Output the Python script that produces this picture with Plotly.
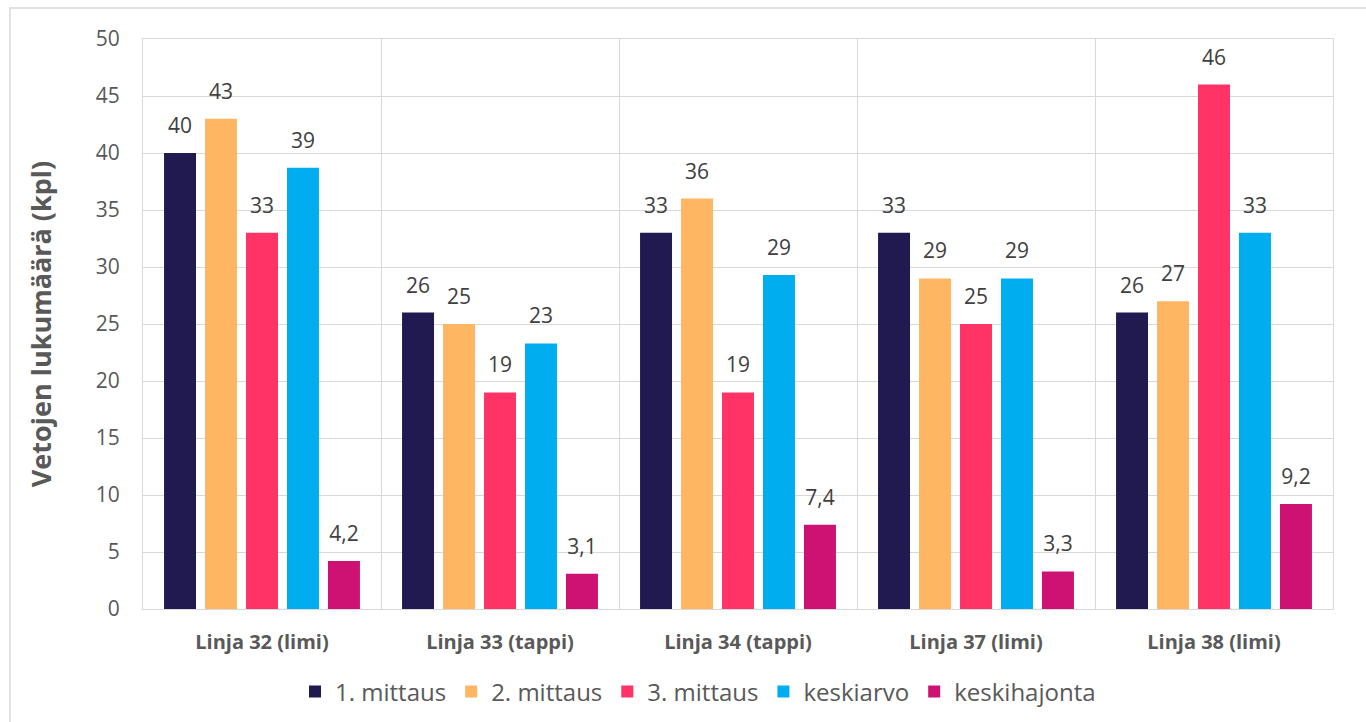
import plotly.graph_objects as go

# Pull-count measurements per line (kpl)
categories = ["Linja 32 (limi)", "Linja 33 (tappi)", "Linja 34 (tappi)",
              "Linja 37 (limi)", "Linja 38 (limi)"]
mittaus_1 = [40, 26, 33, 33, 26]
mittaus_2 = [43, 25, 36, 29, 27]
mittaus_3 = [33, 19, 19, 25, 46]
keskiarvo = [38.7, 23.3, 29.3, 29.0, 33.0]
keskihajonta = [4.2, 3.1, 7.4, 3.3, 9.2]
y_ticks = [0, 5, 10, 15, 20, 25, 30, 35, 40, 45, 50]

series = [
    ("1. mittaus", mittaus_1, "#211A50", "%{y:.0f}"),
    ("2. mittaus", mittaus_2, "#FFB663", "%{y:.0f}"),
    ("3. mittaus", mittaus_3, "#FF3366", "%{y:.0f}"),
    ("keskiarvo", keskiarvo, "#00AEEF", "%{y:.0f}"),
    ("keskihajonta", keskihajonta, "#CE1274", "%{y:.1f}"),
]

FONT = "Open Sans"
GRID = "#D9D9D9"
TEXT = "#595959"
BAR_GAP = 0.139
GROUP_GAP = 0.22

fig = go.Figure()
for name, vals, color, fmt in series:
    fig.add_trace(go.Bar(
        name=name, x=categories, y=vals, offsetgroup=name,
        marker=dict(color=color, line=dict(width=0)),
        hoverinfo="skip",
    ))
# value labels above each bar, placed by the same grouping as the bars
for name, vals, color, fmt in series:
    fig.add_trace(go.Scatter(
        x=categories, y=vals, offsetgroup=name, mode="markers+text",
        marker=dict(size=22, color="rgba(0,0,0,0)"),
        texttemplate=fmt, textposition="top center",
        textfont=dict(family=FONT, size=21, color="#404040"),
        showlegend=False, hoverinfo="skip", cliponaxis=False,
    ))

L, R, T, B = 143, 33, 39, 113
W, H = 1366, 722
pw, ph = W - L - R, H - T - B

fig.update_layout(
    width=W, height=H,
    margin=dict(l=L, r=R, t=T, b=B, autoexpand=False),
    paper_bgcolor="white", plot_bgcolor="white",
    barmode="group", bargap=BAR_GAP, bargroupgap=GROUP_GAP,
    scattermode="group", scattergap=BAR_GAP,
    separators=", ",
    font=dict(family=FONT, color=TEXT),
    showlegend=True,
    legend=dict(
        orientation="h", x=(698 - L) / pw, xanchor="center",
        y=(H - B - 692) / ph, yanchor="middle",
        font=dict(family=FONT, size=24, color=TEXT),
        traceorder="normal",
    ),
    xaxis=dict(
        type="category", tickson="boundaries", automargin=False,
        showgrid=True, gridcolor=GRID, gridwidth=1,
        showline=True, linecolor=GRID, linewidth=1, mirror=True,
        ticks="", ticklabelstandoff=15,
        tickfont=dict(family=FONT, size=20, color=TEXT, weight="bold"),
    ),
    yaxis=dict(
        range=[0, 50], tickvals=y_ticks, automargin=False,
        showgrid=True, gridcolor=GRID, gridwidth=1,
        zeroline=False,
        showline=True, linecolor=GRID, linewidth=1, mirror=True,
        ticks="outside", ticklen=18, tickcolor="rgba(0,0,0,0)",
        tickfont=dict(family=FONT, size=21, color=TEXT),
        title=dict(text="Vetojen lukumäärä (kpl)", standoff=36,
                   font=dict(family=FONT, size=27, color=TEXT, weight="bold")),
    ),
    shapes=[dict(
        type="rect", xref="paper", yref="paper", layer="below",
        x0=(10 - L) / pw, x1=(1372 - L) / pw,
        y0=(H - B - 730) / ph, y1=(H - B - 8) / ph,
        line=dict(color=GRID, width=1.5), fillcolor="rgba(0,0,0,0)",
    )],
)

fig.write_html("out.html")
